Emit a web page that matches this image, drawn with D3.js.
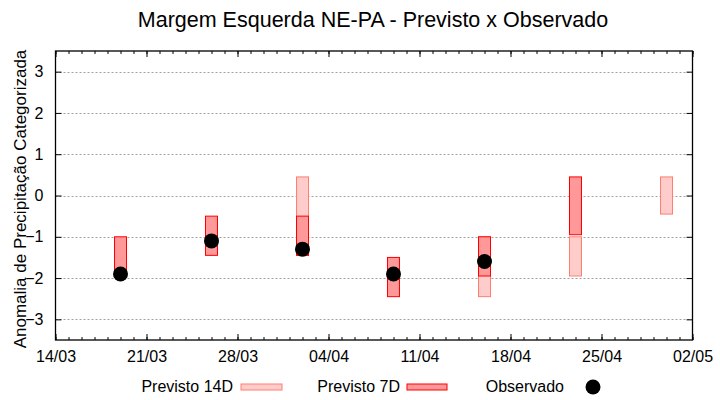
<!DOCTYPE html>
<html>
<head>
<meta charset="utf-8">
<script src="https://cdn.jsdelivr.net/npm/d3@7"></script>
<style>
  body { margin: 0; background: #fff; }
  svg { display: block; font-family: "Liberation Sans", Arial, sans-serif; }
</style>
</head>
<body>
<svg width="720" height="400"></svg>
<script>
// datas das semanas (dd/mm/yyyy)
const obsDates = ["19/03/2024", "26/03/2024", "02/04/2024", "09/04/2024", "16/04/2024"];
const obsValues = [-1.9, -1.1, -1.3, -1.9, -1.6];

const prev7Dates = ["19/03/2024", "26/03/2024", "02/04/2024", "09/04/2024", "16/04/2024", "23/04/2024"];
const prev7Top = [-1.0, -0.5, -0.5, -1.5, -1.0, 0.45];
const prev7Bottom = [-1.9, -1.45, -1.45, -2.45, -1.95, -0.95];

const prev14Dates = ["02/04/2024", "16/04/2024", "23/04/2024", "30/04/2024"];
const prev14Top = [0.45, -1.0, -1.0, 0.45];
const prev14Bottom = [-1.45, -2.45, -1.95, -0.45];

const yTicks = [-3, -2, -1, 0, 1, 2, 3];
const xTickLabels = ["14/03", "21/03", "28/03", "04/04", "11/04", "18/04", "25/04", "02/05"];

const parse = d3.timeParse("%d/%m/%Y");
const fmt = d3.timeFormat("%d/%m");

const svg = d3.select("svg");
const margin = { left: 55.5, right: 27.5, top: 51, bottom: 60 };
const W = 720, H = 400;

const x = d3.scaleTime()
  .domain([parse("14/03/2024"), parse("02/05/2024")])
  .range([margin.left, W - margin.right]);
const y = d3.scaleLinear()
  .domain([-3.5, 3.5])
  .range([H - margin.bottom, margin.top]);

// grade horizontal
svg.append("g")
  .selectAll("line")
  .data(yTicks)
  .join("line")
  .attr("x1", margin.left)
  .attr("x2", W - margin.right)
  .attr("y1", (d) => Math.round(y(d)) + 0.5)
  .attr("y2", (d) => Math.round(y(d)) + 0.5)
  .attr("stroke", "#a0a0a0")
  .attr("stroke-width", 1)
  .attr("stroke-dasharray", "2,2");

const bw = 12;

// previsto 14D (fundo)
const p14 = prev14Dates.map((d, i) => ({ date: parse(d), top: prev14Top[i], bottom: prev14Bottom[i] }));
svg.append("g")
  .selectAll("rect")
  .data(p14)
  .join("rect")
  .attr("x", (d) => x(d.date) - bw / 2)
  .attr("width", bw)
  .attr("y", (d) => y(d.top))
  .attr("height", (d) => y(d.bottom) - y(d.top))
  .attr("fill", "#ffcccc")
  .attr("stroke", "#ff7f6f")
  .attr("stroke-width", 1);

// previsto 7D
const p7 = prev7Dates.map((d, i) => ({ date: parse(d), top: prev7Top[i], bottom: prev7Bottom[i] }));
svg.append("g")
  .selectAll("rect")
  .data(p7)
  .join("rect")
  .attr("x", (d) => x(d.date) - bw / 2)
  .attr("width", bw)
  .attr("y", (d) => y(d.top))
  .attr("height", (d) => y(d.bottom) - y(d.top))
  .attr("fill", "#ff9999")
  .attr("stroke", "#ff0000")
  .attr("stroke-width", 1);

// observado
const obs = obsDates.map((d, i) => ({ date: parse(d), v: obsValues[i] }));
svg.append("g")
  .selectAll("circle")
  .data(obs)
  .join("circle")
  .attr("cx", (d) => x(d.date))
  .attr("cy", (d) => y(d.v))
  .attr("r", 7.5)
  .attr("fill", "#000");

// eixos
const weekTicks = xTickLabels.map((t) => parse(t + "/2024"));
const dayTicks = d3.timeDay.range(x.domain()[0], d3.timeDay.offset(x.domain()[1], 1));

svg.append("g")
  .attr("transform", `translate(0,${H - margin.bottom})`)
  .call(d3.axisBottom(x).tickValues(dayTicks).tickSize(-3).tickFormat(""))
  .call((g) => g.select(".domain").remove());
svg.append("g")
  .attr("transform", `translate(0,${margin.top})`)
  .call(d3.axisTop(x).tickValues(dayTicks).tickSize(-3).tickFormat(""))
  .call((g) => g.select(".domain").remove());

svg.append("g")
  .attr("transform", `translate(0,${H - margin.bottom})`)
  .call(d3.axisBottom(x).tickValues(weekTicks).tickSize(-6).tickPadding(11).tickFormat(fmt))
  .call((g) => g.select(".domain").remove())
  .call((g) => g.selectAll("text").attr("font-size", 16).attr("fill", "#000").attr("font-family", "Liberation Sans, Arial, sans-serif"));
svg.append("g")
  .attr("transform", `translate(0,${margin.top})`)
  .call(d3.axisTop(x).tickValues(weekTicks).tickSize(-6).tickFormat(""))
  .call((g) => g.select(".domain").remove());

svg.append("g")
  .attr("transform", `translate(${margin.left},0)`)
  .call(d3.axisLeft(y).tickValues(yTicks).tickSize(-6).tickPadding(12).tickFormat(d3.format("d")))
  .call((g) => g.select(".domain").remove())
  .call((g) => g.selectAll("text").attr("font-size", 16).attr("fill", "#000").attr("font-family", "Liberation Sans, Arial, sans-serif"));
svg.append("g")
  .attr("transform", `translate(${W - margin.right},0)`)
  .call(d3.axisRight(y).tickValues(yTicks).tickSize(-6).tickFormat(""))
  .call((g) => g.select(".domain").remove());

// moldura
svg.append("rect")
  .attr("x", margin.left)
  .attr("y", margin.top)
  .attr("width", W - margin.left - margin.right)
  .attr("height", H - margin.top - margin.bottom)
  .attr("fill", "none")
  .attr("stroke", "#000")
  .attr("stroke-width", 1.3);

// titulo
svg.append("text")
  .attr("x", 373)
  .attr("y", 27)
  .attr("text-anchor", "middle")
  .attr("font-size", 21.5)
  .text("Margem Esquerda NE-PA - Previsto x Observado");

svg.append("text")
  .attr("transform", `translate(26,199) rotate(-90)`)
  .attr("text-anchor", "middle")
  .attr("font-size", 17)
  .text("Anomalia de Precipitação Categorizada");

// legenda
const leg = svg.append("g").attr("font-size", 16);
const legY = 387;
leg.append("text").attr("x", 233).attr("y", legY + 5).attr("text-anchor", "end").text("Previsto 14D");
leg.append("rect").attr("x", 241).attr("y", legY - 3).attr("width", 41).attr("height", 6)
  .attr("fill", "#ffcccc").attr("stroke", "#ff7f6f");
leg.append("text").attr("x", 400).attr("y", legY + 5).attr("text-anchor", "end").text("Previsto 7D");
leg.append("rect").attr("x", 407).attr("y", legY - 3).attr("width", 40).attr("height", 6)
  .attr("fill", "#ff9999").attr("stroke", "#ff0000");
leg.append("text").attr("x", 564).attr("y", legY + 5).attr("text-anchor", "end").text("Observado");
leg.append("circle").attr("cx", 593).attr("cy", legY).attr("r", 7.5).attr("fill", "#000");
</script>
</body>
</html>
